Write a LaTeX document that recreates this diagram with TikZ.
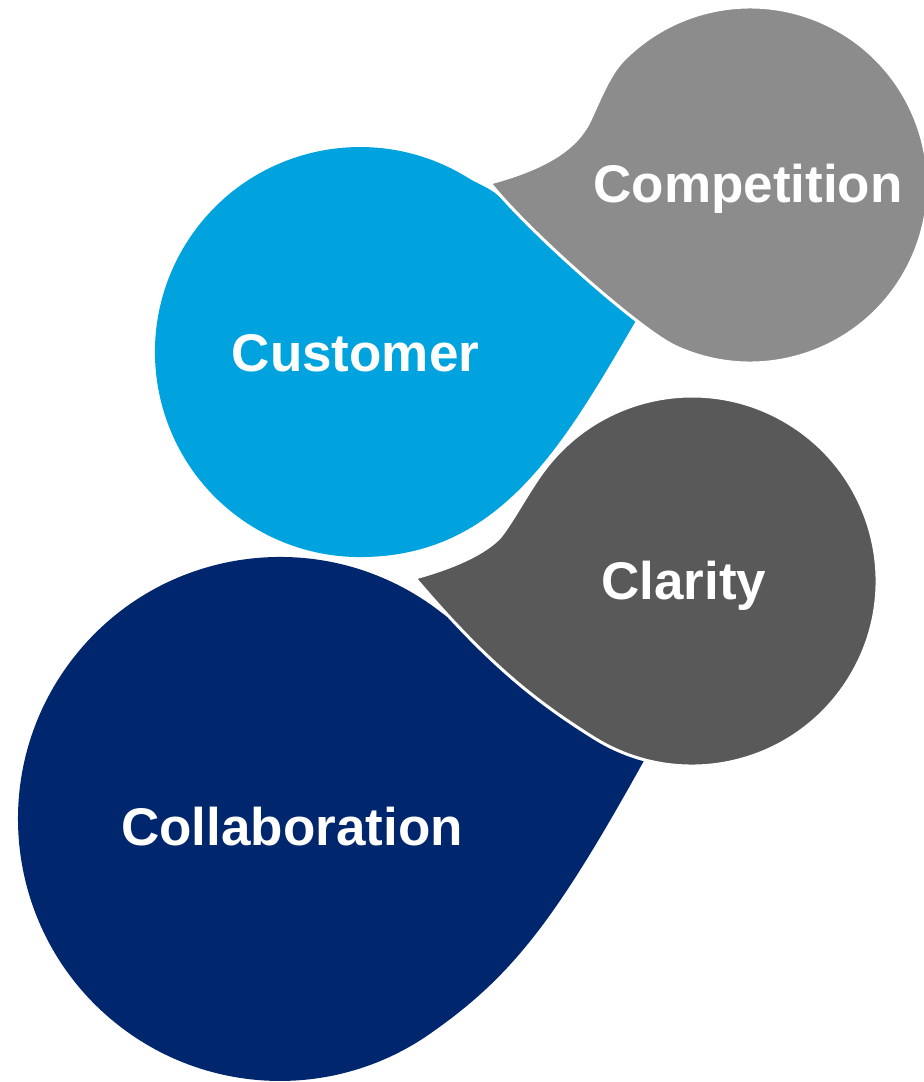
\documentclass[tikz,border=0pt]{standalone}
\usepackage{fontspec}
\setmainfont{Liberation Sans}
\definecolor{custblue}{HTML}{00A3DE}
\definecolor{compgray}{HTML}{8C8C8C}
\definecolor{clargray}{HTML}{595959}
\definecolor{collnavy}{HTML}{00266E}
\begin{document}
\begin{tikzpicture}[x=0.75pt,y=0.75pt,
  blob/.style={draw=white, line width=2.25pt, line join=round},
  lbl/.style={text=white, font=\fontsize{39.75}{44}\selectfont\bfseries, inner sep=0pt, anchor=base}]
\useasboundingbox (0,0) rectangle (924,-1082);
\clip (0,0) rectangle (924,-1082);

% Customer (blue)
\fill[custblue] (468.6,-178.2) arc[start angle=58, end angle=270, radius=205]
  .. controls (500,-557) and (563,-446) .. (638,-317)
  .. controls (589.5,-279) and (530,-222) .. (495,-193)
  .. controls (487,-187) and (477.1,-183.5) .. (468.6,-178.2) -- cycle;

% Competition (light gray)
\filldraw[fill=compgray, blob] (674.8,-346.3) arc[start angle=245, end angle=495.5, radius=178]
  .. controls (609.1,-74.5) and (598.5,-101.9) .. (590,-120)
  .. controls (577.3,-147.2) and (548,-167.5) .. (490,-183)
  .. controls (527,-230) and (638.8,-329) .. (674.8,-346.3) -- cycle;

% Collaboration (navy)
\fill[collnavy] (441.3,-612.5) arc[start angle=52, end angle=305, radius=262]
  .. controls (512.2,-976.2) and (555.5,-920.6) .. (646,-757)
  .. controls (600,-735) and (520,-690) .. (476,-640)
  .. controls (466.2,-628.7) and (450.8,-620) .. (441.3,-612.5) -- cycle;

% Clarity (dark gray)
\filldraw[fill=clargray, blob] (594,-737.9) arc[start angle=238, end angle=505, radius=185]
  .. controls (525,-497) and (512,-522) .. (500,-537)
  .. controls (485,-553) and (455,-567) .. (415,-578)
  .. controls (486.2,-661.9) and (534.6,-700.8) .. (594,-737.9) -- cycle;

\node[lbl] (competition) at (748,-202) {Competition};
\node[lbl] (customer) at (355.5,-371) {Customer};
\node[lbl] (clarity) at (684,-599) {Clarity};
\node[lbl] (collaboration) at (292,-845) {Collaboration};
\end{tikzpicture}
\end{document}
